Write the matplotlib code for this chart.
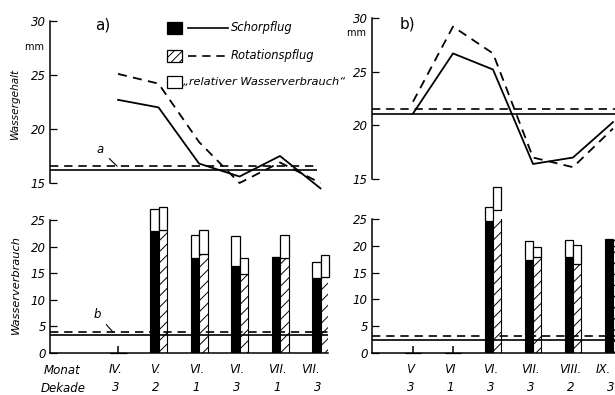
import matplotlib
matplotlib.use("Agg")
import matplotlib.pyplot as plt
from matplotlib import font_manager
from matplotlib.patches import Rectangle
from matplotlib.lines import Line2D

# ---- panel a ----
monat_a = ["IV.", "V.", "VI.", "VI.", "VII.", "VII."]
dekade_a = ["3", "2", "1", "3", "1", "3"]
gehalt_schor_a = [22.7, 22.0, 16.8, 15.6, 17.5, 14.5]
gehalt_rot_a = [25.1, 24.2, 18.8, 15.0, 16.9, 15.0]
ref_gehalt_a = [16.2, 16.55]          # Schorpflug, Rotationspflug
verbr_schor_a = [0, 22.9, 17.8, 16.3, 18.0, 14.1]
rel_schor_a = [0, 27.0, 22.1, 21.9, 18.0, 17.1]
verbr_rot_a = [0, 23.1, 18.6, 14.9, 17.9, 14.3]
rel_rot_a = [0, 27.4, 23.2, 17.9, 22.1, 18.4]
ref_verbr_a = [3.4, 3.9]

# ---- panel b ----
monat_b = ["V", "VI", "VI.", "VII.", "VIII.", "IX."]
dekade_b = ["3", "1", "3", "3", "2", "3"]
gehalt_schor_b = [21.1, 26.7, 25.2, 16.4, 17.0, 20.3]
gehalt_rot_b = [22.2, 29.2, 26.7, 17.0, 16.1, 19.7]
ref_gehalt_b = [21.1, 21.5]
verbr_schor_b = [0, 0, 24.7, 17.3, 18.0, 21.0]
rel_schor_b = [0, 0, 27.3, 20.9, 21.0, 21.3]
verbr_rot_b = [0, 0, 26.6, 17.9, 16.6, 20.0]
rel_rot_b = [0, 0, 31.0, 19.8, 20.2, 21.0]
ref_verbr_b = [2.4, 3.1]

names = {f.name for f in font_manager.fontManager.ttflist}
if "Liberation Sans Narrow" in names:
    FAM, K = "Liberation Sans Narrow", 1.3
else:
    FAM, K = "DejaVu Sans", 1.0
plt.rcParams["font.family"] = [FAM, "DejaVu Sans"]
plt.rcParams["font.style"] = "italic"
plt.rcParams["hatch.linewidth"] = 0.7

W, H = 615, 395
fig = plt.figure(figsize=(W / 100, H / 100), dpi=100)

DASH = (0, (5, 3.5))
BW = 0.21


def add_ax(l, t, r, b):
    return fig.add_axes([l / W, 1 - b / H, (r - l) / W, (b - t) / H])


def style(ax, bottom):
    for s in ["top", "right"]:
        ax.spines[s].set_visible(False)
    ax.spines["bottom"].set_visible(bottom)
    for s in ["left", "bottom"]:
        ax.spines[s].set_linewidth(1.1)
    ax.tick_params(axis="y", direction="in", length=5, width=0.9,
                   labelsize=8.5 * K, pad=3)
    ax.patch.set_alpha(0)


def top_panel(ax, xlim, schor, rot, ref, ref_end, mm_y):
    x = range(len(schor))
    ax.plot(x, schor, color="black", lw=1.3, clip_on=False)
    ax.plot(x, rot, color="black", lw=1.3, ls=DASH, clip_on=False)
    ax.hlines(ref[0], xlim[0], ref_end, color="black", lw=1.2)
    ax.hlines(ref[1], xlim[0], ref_end, color="black", lw=1.2, ls=DASH)
    ax.set_xlim(*xlim)
    ax.set_ylim(15, 30)
    ax.set_yticks([15, 20, 25, 30])
    ax.set_xticks([])
    style(ax, False)
    ax.text(xlim[0], mm_y, "mm  ", ha="right", va="center",
            fontsize=7 * K, style="normal")


def bottom_panel(ax, xlim, schor, rel_s, rot, rel_r, ref, monat, dekade):
    x = list(range(len(schor)))
    xs = [i - BW / 2 for i in x]
    xr = [i + BW / 2 for i in x]
    # short marks where a decade has no bars
    for i in x:
        if schor[i] == 0 and rot[i] == 0:
            ax.vlines(i, 0, 1.3, color="black", lw=1.1, zorder=5)
    ax.bar(xs, schor, width=BW, color="black", edgecolor="black", lw=0.8)
    ax.bar(xs, [r - v for r, v in zip(rel_s, schor)], bottom=schor, width=BW,
           color="white", edgecolor="black", lw=0.9, clip_on=False)
    ax.bar(xr, rot, width=BW, color="white", edgecolor="black", lw=0.8,
           hatch="///")
    ax.bar(xr, [r - v for r, v in zip(rel_r, rot)], bottom=rot, width=BW,
           color="white", edgecolor="black", lw=0.9, clip_on=False)
    ax.axhline(ref[0], color="black", lw=1.2)
    ax.axhline(ref[1], color="black", lw=1.2, ls=DASH)
    ax.set_xlim(*xlim)
    ax.set_ylim(0, 25)
    ax.set_yticks([0, 5, 10, 15, 20, 25])
    ax.set_xticks([])
    style(ax, True)
    for i in x:
        dx = -2 if i < len(x) - 1 else -7
        ax.annotate(monat[i], (i, 0), xycoords=("data", "axes fraction"),
                    xytext=(dx, -12), textcoords="offset points",
                    ha="center", va="center", fontsize=8.5 * K)
        ax.annotate(dekade[i], (i, 0), xycoords=("data", "axes fraction"),
                    xytext=(-2, -25), textcoords="offset points",
                    ha="center", va="center", fontsize=8.5 * K)


xlim_a = (-1.68, 5.185)
xlim_b = (-1.025, 5.05)

ax1 = add_ax(50, 21, 328, 183)
top_panel(ax1, xlim_a, gehalt_schor_a, gehalt_rot_a, ref_gehalt_a, 4.91, 27.6)
ax1.annotate("a", xy=(-0.02, ref_gehalt_a[1]), xytext=(-0.45, 18.1),
             ha="center", va="center", fontsize=8.5 * K,
             arrowprops=dict(arrowstyle="-", lw=0.8, shrinkA=3, shrinkB=0))
ax1.text(-0.37, 29.6, "a)", ha="center", va="center", fontsize=11,
         style="normal", family="DejaVu Sans")

ax2 = add_ax(50, 220, 328, 353)
bottom_panel(ax2, xlim_a, verbr_schor_a, rel_schor_a, verbr_rot_a, rel_rot_a,
             ref_verbr_a, monat_a, dekade_a)
ax2.annotate("b", xy=(-0.12, ref_verbr_a[1]), xytext=(-0.52, 7.3),
             ha="center", va="center", fontsize=8.5 * K,
             arrowprops=dict(arrowstyle="-", lw=0.8, shrinkA=3, shrinkB=0))

ax3 = add_ax(372, 18, 615, 179)
top_panel(ax3, xlim_b, gehalt_schor_b, gehalt_rot_b, ref_gehalt_b, xlim_b[1], 28.6)
ax3.text(-0.15, 29.4, "b)", ha="center", va="center", fontsize=11,
         style="normal", family="DejaVu Sans")

ax4 = add_ax(372, 219, 615, 353)
bottom_panel(ax4, xlim_b, verbr_schor_b, rel_schor_b, verbr_rot_b, rel_rot_b,
             ref_verbr_b, monat_b, dekade_b)

# axis titles and row labels
fig.text(15 / W, 1 - 103 / H, "Wassergehalt", rotation=90, ha="center",
         va="center", fontsize=7.6 * K)
fig.text(16 / W, 1 - 285 / H, "Wasserverbrauch", rotation=90, ha="center",
         va="center", fontsize=8.2 * K)
fig.text(62 / W, 1 - 370 / H, "Monat", ha="center", va="center", fontsize=8.5 * K)
fig.text(63 / W, 1 - 388 / H, "Dekade", ha="center", va="center", fontsize=8.5 * K)

# legend
rows = [(28, "black", None, "-", "Schorpflug"),
        (56, "white", "////", DASH, "Rotationspflug"),
        (82, "white", None, None, "\u201erelativer Wasserverbrauch\u201c")]
for y, fc, hatch, ls, label in rows:
    fig.add_artist(Rectangle((167 / W, 1 - (y + 6) / H), 15 / W, 12 / H,
                             facecolor=fc, edgecolor="black", lw=0.9,
                             hatch=hatch, transform=fig.transFigure))
    if ls is not None:
        fig.add_artist(Line2D([188 / W, 228 / W], [1 - y / H, 1 - y / H],
                              color="black", lw=1.2, ls=ls,
                              transform=fig.transFigure))
        fig.text(231 / W, 1 - y / H, label, ha="left", va="center",
                 fontsize=8.3 * K)
    else:
        fig.text(183 / W, 1 - y / H, label, ha="left", va="center",
                 fontsize=8.2 * K)

fig.savefig("out.png", dpi=100)
